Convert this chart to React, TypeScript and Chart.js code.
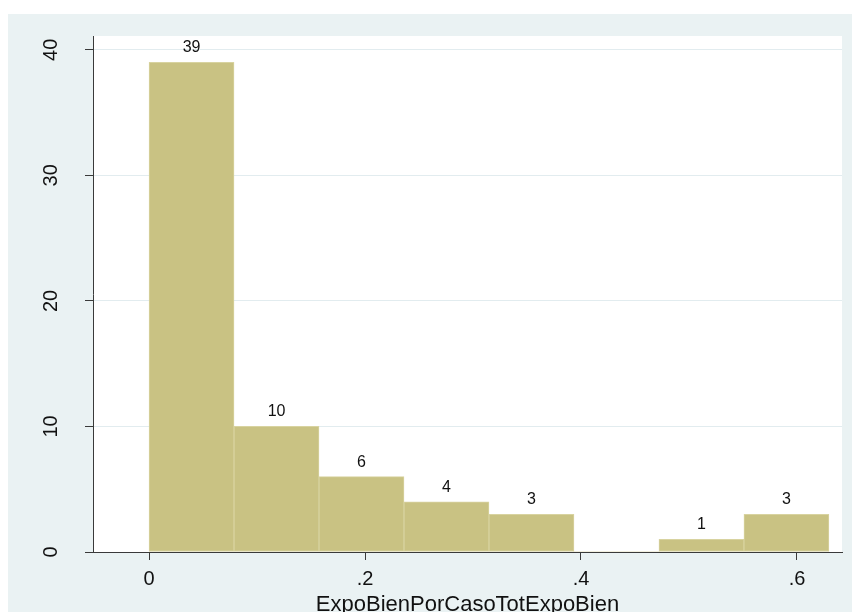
import { useEffect, useRef } from "react";
import { Chart, registerables } from "chart.js";

Chart.register(...registerables);

// Histogram bins: lower edge at 0, equal width, frequency per bin
const BIN_WIDTH = 0.0787;
const BIN_COUNTS = [39, 10, 6, 4, 3, 0, 1, 3];

// Axis ticks and title
const X_TICKS = [0, 0.2, 0.4, 0.6];
const Y_TICKS = [0, 10, 20, 30, 40];
const X_TITLE = "ExpoBienPorCasoTotExpoBien";

const FAMILY = '"Liberation Sans", Arial, Helvetica, sans-serif';
const TEXT = "#111111";
const AXIS = "#3a3a3a";
const GRID = "rgb(226,236,239)";
const BG = "rgb(234,242,243)";
const BAR_FILL = "rgb(201,194,131)";
const BAR_EDGE = "rgb(216,211,160)";

const fmtTick = (v: number) => (v === 0 ? "0" : String(v).replace(/^0(?=\.)/, ""));

const decorations = {
  id: "decorations",
  beforeDraw(chart: any) {
    const { ctx, chartArea: a } = chart;
    ctx.save();
    ctx.fillStyle = "#ffffff";
    ctx.fillRect(a.left, a.top, a.right - a.left, a.bottom - a.top);
    ctx.restore();
  },
  afterDraw(chart: any) {
    const { ctx, chartArea: a } = chart;
    const yScale = chart.scales.y;
    ctx.save();
    ctx.fillStyle = TEXT;
    ctx.textAlign = "center";
    ctx.textBaseline = "alphabetic";

    // vertical y-axis labels, reading bottom to top
    ctx.font = `20px ${FAMILY}`;
    for (const v of Y_TICKS) {
      const py = yScale.getPixelForValue(v);
      ctx.save();
      ctx.translate(a.left - 36, py);
      ctx.rotate(-Math.PI / 2);
      ctx.fillText(String(v), 0, 0);
      ctx.restore();
    }

    // frequency labels above each bar
    ctx.font = `16px ${FAMILY}`;
    const meta = chart.getDatasetMeta(0);
    meta.data.forEach((bar: any, i: number) => {
      const n = BIN_COUNTS[i];
      if (!n) return;
      ctx.fillText(String(n), bar.x, bar.y - 10);
    });

    // x-axis title
    ctx.font = `22px ${FAMILY}`;
    ctx.fillText(X_TITLE, (a.left + a.right) / 2, chart.height - 1);
    ctx.restore();
  },
};

export default function App() {
  const canvasRef = useRef<HTMLCanvasElement | null>(null);

  useEffect(() => {
    const canvas = canvasRef.current;
    if (!canvas) return;
    const chart = new Chart(canvas, {
      type: "bar",
      data: {
        datasets: [
          {
            data: BIN_COUNTS.map((c, i) => ({ x: BIN_WIDTH * (i + 0.5), y: c })),
            backgroundColor: BAR_FILL,
            borderColor: BAR_EDGE,
            borderWidth: (ctx: any) => (ctx.raw && ctx.raw.y ? 1 : 0),
            borderSkipped: false,
            barPercentage: 1,
            categoryPercentage: 1,
          } as any,
        ],
      },
      options: {
        responsive: false,
        animation: false,
        layout: { padding: { top: 22, right: 10, left: 0, bottom: 0 } },
        plugins: {
          legend: { display: false },
          tooltip: { enabled: false },
        },
        scales: {
          x: {
            type: "linear",
            min: -0.0519,
            max: 0.6417,
            offset: false,
            grid: {
              display: true,
              drawOnChartArea: false,
              drawTicks: true,
              tickLength: 8,
              tickColor: AXIS,
              tickWidth: 1,
              offset: false,
            },
            border: { display: true, color: AXIS, width: 1 },
            ticks: {
              font: { size: 20, family: FAMILY },
              color: TEXT,
              padding: 7,
              autoSkip: false,
              maxRotation: 0,
              callback: (v: any) => fmtTick(Number(v)),
            },
            afterBuildTicks: (s: any) => {
              s.ticks = X_TICKS.map((value) => ({ value }));
            },
            afterFit: (s: any) => {
              s.height = 60;
            },
          },
          y: {
            type: "linear",
            min: 0,
            max: 41.1,
            grid: {
              color: GRID,
              lineWidth: 1,
              drawTicks: true,
              tickLength: 8,
              tickColor: AXIS,
              tickWidth: 1,
            },
            border: { display: true, color: AXIS, width: 1 },
            ticks: { display: false },
            afterBuildTicks: (s: any) => {
              s.ticks = Y_TICKS.map((value) => ({ value }));
            },
            afterFit: (s: any) => {
              s.width = 85;
            },
          },
        },
      } as any,
      plugins: [decorations],
    });
    return () => chart.destroy();
  }, []);

  return (
    <div
      style={{
        position: "fixed",
        left: 8,
        top: 14,
        width: 844,
        height: 598,
        background: BG,
      }}
    >
      <canvas ref={canvasRef} width={844} height={598} style={{ display: "block" }} />
    </div>
  );
}
